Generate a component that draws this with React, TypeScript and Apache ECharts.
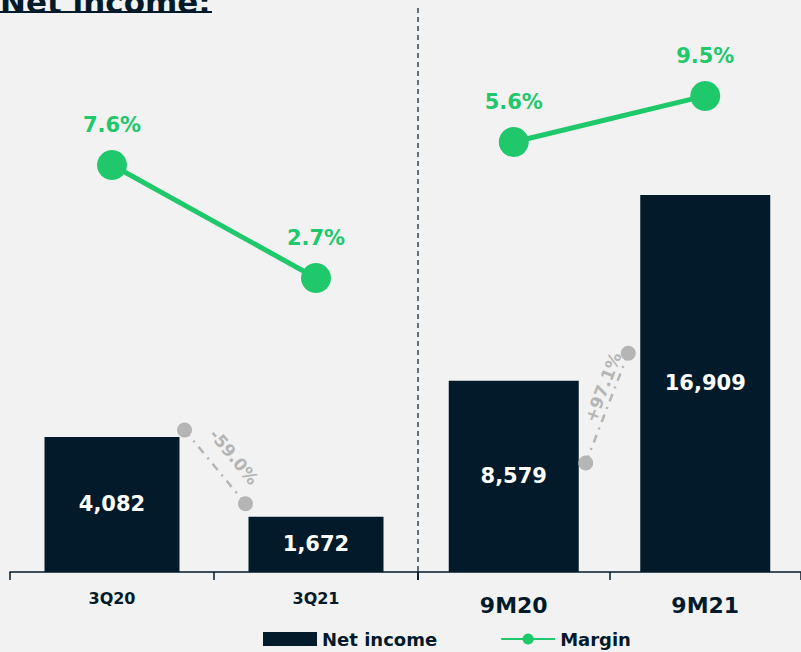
import React, { useEffect, useRef } from "react";
import * as echarts from "echarts";

const leftCategories = ["3Q20", "3Q21"];
const rightCategories = ["9M20", "9M21"];
const leftNetIncome = [4082, 1672];
const rightNetIncome = [8579, 16909];
const leftMargin = [7.6, 2.7];
const rightMargin = [5.6, 9.5];
const leftChange = "-59.0%";
const rightChange = "+97.1%";
const titleText = "Net income:";

const NAVY = "#031a2b";
const GREEN = "#1ec86b";
const GRAY = "#b5b5b5";
const BG = "#f2f2f2";
const FONT = "'DejaVu Sans', sans-serif";

export default function App() {
  const ref = useRef<HTMLDivElement>(null);
  useEffect(() => {
    const chart = echarts.init(ref.current!, null, { renderer: "svg" });
    const barLabel = {
      show: true,
      position: "inside",
      color: "#ffffff",
      fontSize: 21,
      fontWeight: "bold",
      fontFamily: FONT,
    };
    const lineLabel = {
      show: true,
      position: "top",
      distance: 14,
      color: GREEN,
      fontSize: 21,
      fontWeight: "bold",
      fontFamily: FONT,
      formatter: "{c}%",
    };
    const axisCommon = (fontSize: number, margin: number) => ({
      axisLine: { show: true, lineStyle: { color: NAVY, width: 1.5 } },
      axisTick: { show: true, length: 8, lineStyle: { color: NAVY, width: 1.5 } },
      axisLabel: { color: NAVY, fontSize, fontWeight: "bold", fontFamily: FONT, margin },
      splitLine: { show: false },
    });
    const option: any = {
      animation: false,
      backgroundColor: BG,
      textStyle: { fontFamily: FONT },
      grid: [
        { left: 10, top: 40, width: 408, height: 532 },
        { left: 418, top: 40, width: 388, height: 532 },
      ],
      legend: {
        data: [
          { name: "Net income", icon: "rect" },
          { name: "Margin" },
        ],
        left: 258,
        top: 630,
        padding: [0, 5, 0, 5],
        itemWidth: 54,
        itemHeight: 14,
        itemGap: 63,
        textStyle: { color: NAVY, fontSize: 18, fontWeight: "bold", fontFamily: FONT, padding: [0, 0, 0, 0] },
      },
      xAxis: [
        { type: "category", gridIndex: 0, data: leftCategories, ...axisCommon(16, 18) },
        { type: "category", gridIndex: 1, data: rightCategories, ...axisCommon(22, 22) },
      ],
      yAxis: [
        { type: "value", gridIndex: 0, min: 0, max: 16073, show: false },
        { type: "value", gridIndex: 0, min: -10.05, max: 13.02, show: false },
        { type: "value", gridIndex: 1, min: 0, max: 23857, show: false },
        { type: "value", gridIndex: 1, min: -30.84, max: 14.24, show: false },
      ],
      series: [
        {
          name: "Net income",
          type: "bar",
          xAxisIndex: 0,
          yAxisIndex: 0,
          data: leftNetIncome,
          barWidth: 135,
          itemStyle: { color: NAVY },
          label: { ...barLabel, formatter: (p: any) => p.value.toLocaleString("en-US") },
        },
        {
          name: "Net income",
          type: "bar",
          xAxisIndex: 1,
          yAxisIndex: 2,
          data: rightNetIncome,
          barWidth: 130,
          itemStyle: { color: NAVY },
          label: { ...barLabel, formatter: (p: any) => p.value.toLocaleString("en-US") },
        },
        {
          name: "Margin",
          type: "line",
          xAxisIndex: 0,
          yAxisIndex: 1,
          data: leftMargin,
          symbol: "circle",
          symbolSize: 30,
          lineStyle: { color: GREEN, width: 5 },
          itemStyle: { color: GREEN },
          label: lineLabel,
        },
        {
          name: "Margin",
          type: "line",
          xAxisIndex: 1,
          yAxisIndex: 3,
          data: rightMargin,
          symbol: "circle",
          symbolSize: 30,
          lineStyle: { color: GREEN, width: 5 },
          itemStyle: { color: GREEN },
          label: lineLabel,
        },
      ],
    };
    chart.setOption(option);

    const px = (si: number, i: number, v: number) =>
      chart.convertToPixel({ seriesIndex: si }, [i, v]) as number[];

    // left connector
    const a = px(0, 0, leftNetIncome[0]);
    const b = px(0, 1, leftNetIncome[1]);
    const lFrom = [a[0] + 135 / 2 + 5, a[1] - 7];
    const lTo = [b[0] - 135 / 2 - 3, b[1] - 13];
    // right connector
    const c = px(1, 0, rightNetIncome[0]);
    const d = px(1, 1, rightNetIncome[1]);
    const base = px(1, 0, 0)[1];
    const rFrom = [c[0] + 130 / 2 + 7, base - 0.57 * (base - c[1])];
    const rTo = [d[0] - 130 / 2 - 12, base - 0.58 * (base - d[1])];

    const connector = (from: number[], to: number[], text: string, off: number[]) => {
      const ang = Math.atan2(-(to[1] - from[1]), to[0] - from[0]);
      let rot = ang;
      if (rot > Math.PI / 2) rot -= Math.PI;
      if (rot < -Math.PI / 2) rot += Math.PI;
      const mx = (from[0] + to[0]) / 2 + off[0];
      const my = (from[1] + to[1]) / 2 + off[1];
      return [
        {
          type: "line",
          shape: { x1: from[0], y1: from[1], x2: to[0], y2: to[1] },
          style: { stroke: GRAY, lineWidth: 2.5, lineDash: [8, 6, 2, 6] },
          z: 10,
        },
        { type: "circle", shape: { cx: from[0], cy: from[1], r: 7.5 }, style: { fill: GRAY }, z: 11 },
        { type: "circle", shape: { cx: to[0], cy: to[1], r: 7.5 }, style: { fill: GRAY }, z: 11 },
        {
          type: "text",
          x: mx,
          y: my,
          rotation: rot,
          style: {
            text,
            fill: GRAY,
            font: `bold 17px ${FONT}`,
            align: "center",
            verticalAlign: "middle",
          },
          z: 12,
        },
      ];
    };

    chart.setOption({
      graphic: [
        {
          type: "text",
          x: 0,
          y: 17,
          style: {
            text: titleText,
            fill: NAVY,
            font: `bold 31px ${FONT}`,
            align: "left",
            verticalAlign: "bottom",
          },
        },
        { type: "rect", shape: { x: 0, y: 11, width: 212, height: 2 }, style: { fill: NAVY } },
        {
          type: "line",
          shape: { x1: 418, y1: 8, x2: 418, y2: 582 },
          style: { stroke: NAVY, lineWidth: 1.2, lineDash: [5, 4] },
        },
        ...connector(lFrom, lTo, leftChange, [19, -10]),
        ...connector(rFrom, rTo, rightChange, [-4, -21]),
      ],
    });

    return () => chart.dispose();
  }, []);
  return (
    <div
      ref={ref}
      style={{ position: "fixed", left: 0, top: 0, width: 801, height: 652 }}
    />
  );
}
